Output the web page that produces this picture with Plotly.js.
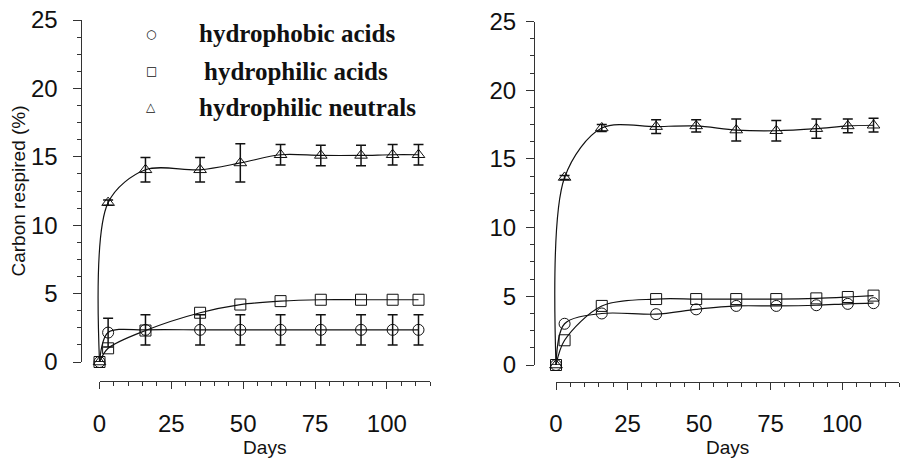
<!DOCTYPE html>
<html>
<head>
<meta charset="utf-8">
<script src="https://cdn.plot.ly/plotly-3.0.1.min.js"></script>
<style>html,body{margin:0;padding:0;background:#fff;}#chart{width:904px;height:463px;}</style>
</head>
<body>
<div id="chart"></div>
<script>
// ---- data ----
const days = [0, 3, 16, 35, 49, 63, 77, 91, 102, 111];

// left panel
const phobicAcidsL    = [0, 2.15, 2.35, 2.35, 2.35, 2.35, 2.35, 2.35, 2.35, 2.35];
const phobicAcidsLErr = [0, 1.05, 1.1, 1.1, 1.1, 1.1, 1.1, 1.1, 1.1, 1.1];
const philicAcidsL    = [0, 1.0, 2.3, 3.6, 4.2, 4.45, 4.55, 4.55, 4.55, 4.55];
const philicNeutL     = [0, 11.65, 14.05, 14.05, 14.55, 15.15, 15.1, 15.1, 15.15, 15.15];
const philicNeutLErr  = [0, 0.2, 0.9, 0.9, 1.4, 0.75, 0.75, 0.75, 0.75, 0.75];

// right panel
const phobicAcidsR    = [0, 3.0, 3.75, 3.7, 4.05, 4.3, 4.3, 4.35, 4.45, 4.5];
const philicAcidsR    = [0, 1.8, 4.3, 4.8, 4.8, 4.8, 4.8, 4.85, 4.95, 5.05];
const philicNeutR     = [0, 13.65, 17.25, 17.35, 17.4, 17.1, 17.05, 17.2, 17.4, 17.45];
const philicNeutRErr  = [0, 0.15, 0.25, 0.5, 0.45, 0.8, 0.75, 0.7, 0.5, 0.5];

const seriesNames = ['hydrophobic acids', 'hydrophilic acids', 'hydrophilic neutrals'];
const legendGlyphs = ['\u25CB', '\u25A1', '\u25B3'];
const xTickVals = [0, 25, 50, 75, 100];
const yTickVals = [0, 5, 10, 15, 20, 25];

// ---- layout helpers (pixel geometry of the frame) ----
const W = 904, H = 463;
const px = x => x / W;
const py = y => 1 - y / H;
const INK = '#111';
const AX = '#333';

// left panel frame
const L = {yLine: 81.5, x0: 99.5, x1: 430, xMax: 115, yTop: 20, yBot: 362, xLine: 381};
// right panel frame
const R = {yLine: 535, x0: 556, x1: 899.3, xMax: 120, yTop: 21.5, yBot: 365, xLine: 381.5};
function dataRange(f) {
  const k = (f.x1 - f.x0) / f.xMax;
  return [-(f.x0 - f.yLine) / k, f.xMax];
}

function trace(y, err, symbol, xa, ya, name) {
  const t = {
    x: days, y: y, name: name, xaxis: xa, yaxis: ya,
    type: 'scatter', mode: 'lines+markers', cliponaxis: false,
    line: {color: INK, width: 1.2, shape: 'spline', smoothing: 0.9},
    marker: {symbol: symbol, size: 11, color: INK, line: {width: 1, color: INK}},
    showlegend: false, hoverinfo: 'skip'
  };
  if (err) {
    t.error_y = {type: 'data', array: err, visible: true, color: INK, thickness: 1.5, width: 5};
  }
  return t;
}
// draws nothing; only ties the range-frame day axis to its panel
function axisCarrier(y, xa, ya) {
  return {x: days, y: y, xaxis: xa, yaxis: ya, type: 'scatter', mode: 'none',
          showlegend: false, hoverinfo: 'skip'};
}

const data = [
  trace(phobicAcidsL, phobicAcidsLErr, 'circle-open', 'x', 'y', seriesNames[0]),
  trace(philicAcidsL, null, 'square-open', 'x', 'y', seriesNames[1]),
  trace(philicNeutL, philicNeutLErr, 'triangle-up-open', 'x', 'y', seriesNames[2]),
  trace(phobicAcidsR, null, 'circle-open', 'x2', 'y2', seriesNames[0]),
  trace(philicAcidsR, null, 'square-open', 'x2', 'y2', seriesNames[1]),
  trace(philicNeutR, philicNeutRErr, 'triangle-up-open', 'x2', 'y2', seriesNames[2]),
  axisCarrier(philicNeutL, 'x3', 'y'),
  axisCarrier(philicNeutR, 'x4', 'y2')
];

const tickFont = {family: 'Liberation Sans, Arial, sans-serif', size: 24, color: INK};
const titleFont = {family: 'Liberation Sans, Arial, sans-serif', size: 19, color: INK};

function dataXAxis(f) {
  return {
    domain: [px(f.yLine), px(f.x1)], range: dataRange(f), visible: false,
    showgrid: false, zeroline: false, automargin: false
  };
}
function visXAxis(f) {
  return {
    domain: [px(f.x0), px(f.x1)], range: [0, f.xMax], anchor: 'free', position: py(f.xLine),
    showline: true, linecolor: AX, linewidth: 1,
    ticks: 'outside', ticklen: 7, tickwidth: 1, tickcolor: AX,
    tickmode: 'array', tickvals: xTickVals, ticktext: xTickVals.map(String),
    minor: {dtick: 5, tick0: 0, ticks: 'outside', ticklen: 4, tickcolor: AX, tickwidth: 1, showgrid: false},
    ticklabelstandoff: 14,
    tickfont: tickFont, showgrid: false, zeroline: false, automargin: false,
    title: {text: 'Days', font: titleFont, standoff: 0}
  };
}
function yAxis(f, anchor, standoff, title) {
  return {
    domain: [py(f.yBot), py(f.yTop)], range: [0, 25], anchor: anchor,
    showline: true, linecolor: AX, linewidth: 1,
    ticks: 'outside', ticklen: 8, tickwidth: 1, tickcolor: AX,
    tickmode: 'array', tickvals: yTickVals, ticktext: yTickVals.map(String),
    minor: {dtick: 1.25, tick0: 0, ticks: 'outside', ticklen: 4, tickcolor: AX, tickwidth: 1, showgrid: false},
    ticklabelstandoff: standoff,
    tickfont: tickFont, showgrid: false, zeroline: false, automargin: false,
    title: {text: title, font: titleFont, standoff: 0}
  };
}

const legendFont = {family: 'Liberation Serif, Times New Roman, serif', size: 25, color: INK, weight: 'bold'};
const legendY = [34, 71, 107];
const legendTextX = [196.5, 201.5, 196.5];
const annotations = [];
for (let i = 0; i < 3; i++) {
  annotations.push({
    xref: 'paper', yref: 'paper', x: px(151), y: py(legendY[i]),
    xanchor: 'center', yanchor: 'middle', showarrow: false,
    text: legendGlyphs[i], font: {family: 'DejaVu Sans', size: 12, color: INK}
  });
  annotations.push({
    xref: 'paper', yref: 'paper', x: px(legendTextX[i]), y: py(legendY[i]),
    xanchor: 'left', yanchor: 'middle', showarrow: false,
    text: seriesNames[i], font: legendFont
  });
}

const layout = {
  width: W, height: H,
  margin: {l: 0, r: 0, t: 0, b: 0, pad: 0},
  paper_bgcolor: '#fff', plot_bgcolor: 'rgba(0,0,0,0)',
  showlegend: false,
  xaxis: dataXAxis(L),
  yaxis: yAxis(L, 'x', 10, 'Carbon respired (%)'),
  xaxis2: dataXAxis(R),
  yaxis2: yAxis(R, 'x2', 5, ''),
  xaxis3: visXAxis(L),
  xaxis4: visXAxis(R),
  annotations: annotations
};

Plotly.newPlot('chart', data, layout, {staticPlot: true, displayModeBar: false});
</script>
</body>
</html>
